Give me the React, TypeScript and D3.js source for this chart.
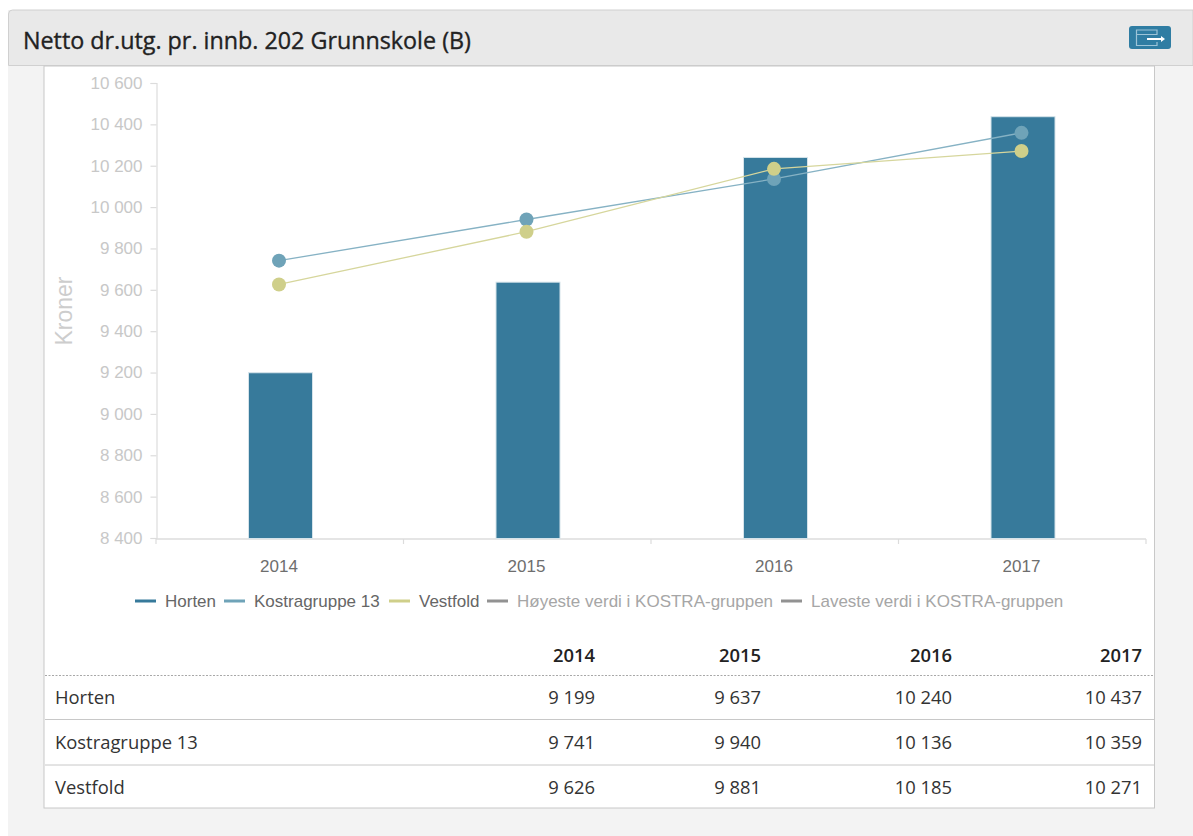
import React, { useEffect, useRef } from 'react';
import * as d3 from 'd3';

const years = ['2014', '2015', '2016', '2017'];
const horten = [9199, 9637, 10240, 10437];
const kostra = [9741, 9940, 10136, 10359];
const vestfold = [9626, 9881, 10185, 10271];
const yTicks = [8400, 8600, 8800, 9000, 9200, 9400, 9600, 9800, 10000, 10200, 10400, 10600];

const lineSeries = [
  { name: 'Kostragruppe 13', values: kostra, color: '#6fa3b8', lineColor: '#86b2c4' },
  { name: 'Vestfold', values: vestfold, color: '#cfcf8a', lineColor: '#d6d69c' },
];
const legendItems = [
  { name: 'Horten', color: '#377a9b', text: '#666666', x: 135 },
  { name: 'Kostragruppe 13', color: '#6fa3b8', text: '#666666', x: 224 },
  { name: 'Vestfold', color: '#cfcf8a', text: '#666666', x: 389 },
  { name: 'Høyeste verdi i KOSTRA-gruppen', color: '#929292', text: '#a6a6a6', x: 487 },
  { name: 'Laveste verdi i KOSTRA-gruppen', color: '#929292', text: '#a6a6a6', x: 781 },
];
const tableRows = [
  { name: 'Horten', values: horten },
  { name: 'Kostragruppe 13', values: kostra },
  { name: 'Vestfold', values: vestfold },
];
const columnRight = [595, 761, 952, 1142];
const rowY = [697, 742, 787];
const rowLines = [719.5, 765];

const sans = '"Liberation Sans", Arial, sans-serif';
const open = '"Open Sans", sans-serif';
const fmt = (v: number) => d3.format(',')(v).replace(/,/g, ' ');

export default function App() {
  const ref = useRef<SVGSVGElement>(null);

  useEffect(() => {
    const svg = d3.select(ref.current);
    svg.selectAll('*').remove();

    // panel
    svg.append('rect').attr('x', 8).attr('y', 10).attr('width', 1185).attr('height', 826).attr('fill', '#f3f3f3');
    svg.append('path').attr('d', 'M8.5,65.5V14a4,4 0 0 1 4,-4H1193V65.5Z')
      .attr('fill', '#e9e9e9').attr('stroke', '#d0d0d0');
    svg.append('text').attr('x', 23).attr('y', 48.5).attr('font-family', open)
      .attr('font-size', 23.3).attr('fill', '#222').attr('stroke', '#222').attr('stroke-width', 0.35)
      .text('Netto dr.utg. pr. innb. 202 Grunnskole (B)');
    svg.append('rect').attr('x', 44).attr('y', 66).attr('width', 1110.5).attr('height', 742)
      .attr('fill', '#fff').attr('stroke', '#c8c8c8');

    // export icon
    const icon = svg.append('g');
    icon.append('rect').attr('x', 1129).attr('y', 26).attr('width', 42).attr('height', 23).attr('rx', 3).attr('fill', '#2f7da3');
    icon.append('path').attr('d', 'M1157,35V30H1136.5V45.5H1157V42M1136.5,34.5H1157')
      .attr('fill', 'none').attr('stroke', '#9cc4d8').attr('stroke-width', 1.2);
    icon.append('path').attr('d', 'M1147,39H1162').attr('stroke', '#fff').attr('stroke-width', 2);
    icon.append('path').attr('d', 'M1161,36L1165,39L1161,42Z').attr('fill', '#fff');

    // scales
    const x = d3.scaleBand().domain(years).range([155.25, 1145.25]);
    const y = d3.scaleLinear().domain([8400, 10600]).range([538, 83]);
    const cx = (yr: string) => (x(yr) as number) + x.bandwidth() / 2;
    const barW = 64;

    // axes
    const yAxis = svg.append('g').attr('transform', 'translate(156.5,0)')
      .call(d3.axisLeft(y).tickValues(yTicks).tickSize(6).tickPadding(8).tickFormat(d => fmt(+d)));
    yAxis.selectAll('path,line').attr('stroke', '#dcdcdc').attr('stroke-width', 1.2);
    yAxis.selectAll('text').attr('font-family', sans).attr('font-size', 17).attr('fill', '#c8c8c8');

    const xAxis = svg.append('g').attr('transform', 'translate(0,539)');
    xAxis.append('line').attr('x1', 156).attr('x2', 1146).attr('stroke', '#dcdcdc').attr('stroke-width', 1.5);
    xAxis.selectAll('line.tick').data(years.concat('end')).enter().append('line').attr('class', 'tick')
      .attr('x1', (d, i) => 156 + i * x.step()).attr('x2', (d, i) => 156 + i * x.step())
      .attr('y1', 0).attr('y2', 5).attr('stroke', '#dcdcdc').attr('stroke-width', 1.2);
    xAxis.selectAll('text').data(years).enter().append('text')
      .attr('x', d => cx(d)).attr('y', 33).attr('text-anchor', 'middle')
      .attr('font-family', sans).attr('font-size', 17).attr('fill', '#6e6e6e').text(d => d);

    svg.append('text').attr('transform', 'translate(71.5,311) rotate(-90)').attr('text-anchor', 'middle')
      .attr('font-family', sans).attr('font-size', 23).attr('fill', '#cdcdcd').text('Kroner');

    // bars
    svg.selectAll('rect.bar').data(horten).enter().append('rect').attr('class', 'bar')
      .attr('x', (d, i) => cx(years[i]) - barW / 2 + 1.5)
      .attr('y', d => y(d)).attr('width', barW).attr('height', d => 538.5 - y(d))
      .attr('fill', '#377a9b').attr('stroke', '#d5e3ea').attr('stroke-width', 1);

    // lines
    const line = d3.line<number>().x((d, i) => cx(years[i])).y(d => y(d));
    lineSeries.forEach(s => {
      svg.append('path').attr('d', line(s.values)).attr('fill', 'none').attr('stroke', s.lineColor).attr('stroke-width', 1.3);
    });
    lineSeries.forEach(s => {
      svg.selectAll(null).data(s.values).enter().append('circle')
        .attr('cx', (d, i) => cx(years[i])).attr('cy', d => y(d)).attr('r', 7).attr('fill', s.color);
    });

    // legend
    legendItems.forEach(l => {
      svg.append('rect').attr('x', l.x).attr('y', 599.5).attr('width', 21).attr('height', 3).attr('fill', l.color);
      svg.append('text').attr('x', l.x + 30).attr('y', 606.5).attr('font-family', sans).attr('font-size', 17)
        .attr('fill', l.text).text(l.name);
    });

    // table
    svg.selectAll('text.head').data(years).enter().append('text').attr('class', 'head')
      .attr('x', (d, i) => columnRight[i]).attr('y', 661.5).attr('text-anchor', 'end')
      .attr('font-family', open).attr('font-size', 18.4).attr('font-weight', 600).attr('fill', '#222').text(d => d);
    svg.append('line').attr('x1', 45).attr('x2', 1154).attr('y1', 675.5).attr('y2', 675.5)
      .attr('stroke', '#a8a8a8').attr('stroke-dasharray', '2,1.5');
    rowLines.forEach(ly => {
      svg.append('line').attr('x1', 45).attr('x2', 1154).attr('y1', ly).attr('y2', ly).attr('stroke', '#c8c8c8');
    });
    tableRows.forEach((r, ri) => {
      svg.append('text').attr('x', 55).attr('y', rowY[ri] + 6.5).attr('font-family', open).attr('font-size', 18.4)
        .attr('fill', '#333').text(r.name);
      r.values.forEach((v, i) => {
        svg.append('text').attr('x', columnRight[i]).attr('y', rowY[ri] + 6.5).attr('text-anchor', 'end')
          .attr('font-family', open).attr('font-size', 18.4).attr('fill', '#333').text(fmt(v));
      });
    });
  }, []);

  return <svg ref={ref} width={1193} height={836} style={{ position: 'absolute', left: 0, top: 0, background: '#fff' }} />;
}
